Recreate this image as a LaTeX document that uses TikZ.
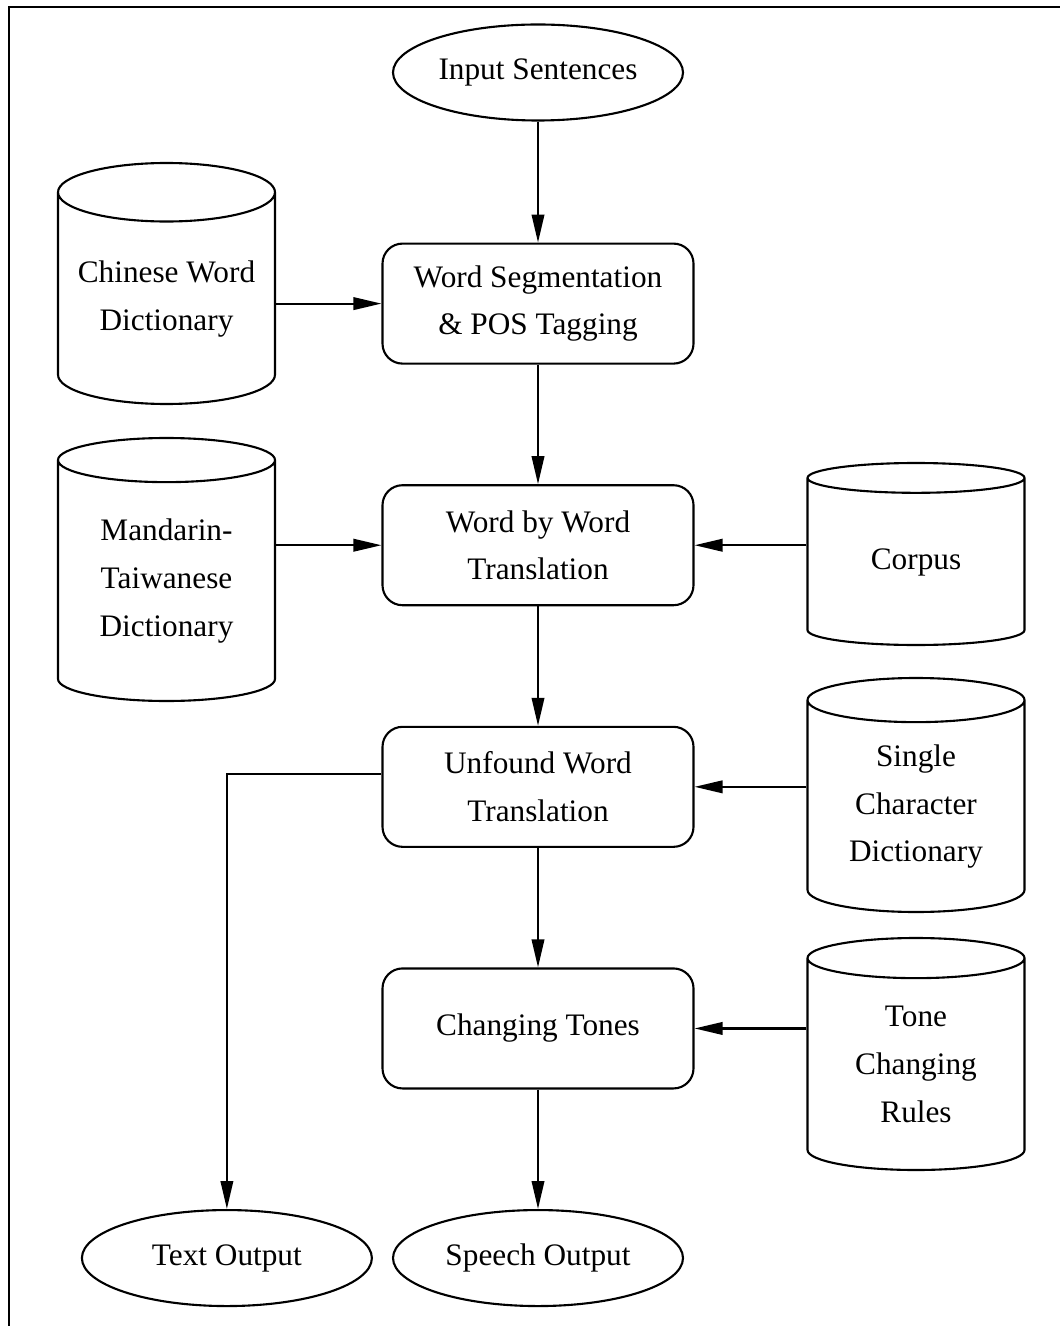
\documentclass[tikz,border=0pt]{standalone}
\usepackage{fontspec}
\setmainfont{Liberation Serif}
\usetikzlibrary{positioning,arrows.meta,shapes.geometric}

\begin{document}
\begin{tikzpicture}[x=1mm,y=1mm,node distance=11.95mm and 10.9mm,
  every node/.style={font=\fontsize{8.9}{13.6}\selectfont},
  proc/.style={draw=black,rectangle,rounded corners=2mm,minimum width=31.1mm,minimum height=12mm,align=center,inner sep=0pt,line width=0.6pt},
  io/.style={draw=black,ellipse,minimum width=29mm,minimum height=9.6mm,inner sep=0pt,line width=0.6pt},
  db/.style={draw=black,cylinder,shape border rotate=90,aspect=0.33,minimum width=21.7mm,align=center,inner sep=0pt,line width=0.6pt},
  arrow/.style={-{Triangle[length=2.8mm,width=1.25mm]},draw=black,line width=0.6pt}]
  \useasboundingbox (0,0) rectangle (106,-132.6);
  % frame (left and top edges only)
  \draw[line width=0.8pt] (0.9,-132.6) -- (0.9,-0.7) -- (106,-0.7);
  % main column
  \node[io] (input) at (53.8,-7.25) {Input Sentences};
  \node[proc,below=12.1mm of input] (seg) {Word Segmentation\\\& POS Tagging};
  \node[proc,below=of seg] (wbw) {Word by Word\\Translation};
  \node[proc,below=of wbw] (unf) {Unfound Word\\Translation};
  \node[proc,below=of unf] (chg) {Changing Tones};
  \node[io,below=of chg] (speech) {Speech Output};
  \node[io,left=1.9mm of speech] (text) {Text Output};
  % dictionaries
  \node[db,minimum height=24.1mm,anchor=shape center] (cwd) at (16.65,-28.35) {Chinese Word\\Dictionary};
  \node[db,minimum height=26.3mm,anchor=shape center] (mtd) at (16.65,-56.95) {Mandarin-\\Taiwanese\\Dictionary};
  \node[db,minimum height=18.2mm,anchor=shape center] (corpus) at (91.6,-55.4) {Corpus};
  \node[db,minimum height=23.4mm,anchor=shape center] (scd) at (91.6,-79.5) {Single\\Character\\Dictionary};
  \node[db,minimum height=23.2mm,anchor=shape center] (tcr) at (91.6,-105.4) {Tone\\Changing\\Rules};
  % connectors
  \draw[arrow] (input) -- (seg);
  \draw[arrow] (seg) -- (wbw);
  \draw[arrow] (wbw) -- (unf);
  \draw[arrow] (unf) -- (chg);
  \draw[arrow] (chg) -- (speech);
  \draw[arrow] (cwd.east |- seg.west) -- (seg.west);
  \draw[arrow] (mtd.east |- wbw.west) -- (wbw.west);
  \draw[arrow] (corpus.west |- wbw.east) -- (wbw.east);
  \draw[arrow] (scd.west |- unf.east) -- (unf.east);
  \draw[arrow] (tcr.west |- chg.east) -- (chg.east);
  \draw[arrow] ([yshift=1.3mm]unf.west) -| (text.north);
\end{tikzpicture}
\end{document}
